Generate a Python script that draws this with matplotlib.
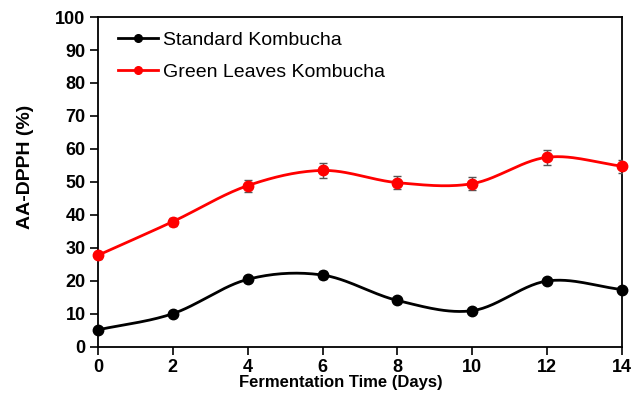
import numpy as np
import matplotlib.pyplot as plt
from matplotlib.lines import Line2D

days = [0, 2, 4, 6, 8, 10, 12, 14]
standard = [5.2, 10.1, 20.5, 21.8, 14.1, 11.0, 20.0, 17.4]
standard_err = [0.6, 0.7, 0.9, 1.2, 0.7, 0.7, 0.9, 0.8]
green = [27.8, 38.0, 48.9, 53.5, 49.8, 49.5, 57.5, 54.8]
green_err = [1.0, 1.2, 1.8, 2.3, 1.9, 2.0, 2.3, 2.0]


def smooth(x, y, n=30):
    # Catmull-Rom style smoothing, close to Excel's smoothed line
    x = np.asarray(x, float)
    y = np.asarray(y, float)
    px = np.concatenate([[2 * x[0] - x[1]], x, [2 * x[-1] - x[-2]]])
    py = np.concatenate([[2 * y[0] - y[1]], y, [2 * y[-1] - y[-2]]])
    xs, ys = [], []
    t = np.linspace(0, 1, n)
    for i in range(1, len(px) - 2):
        p0, p1, p2, p3 = [np.array([px[j], py[j]]) for j in range(i - 1, i + 3)]
        b1 = p1 + (p2 - p0) / 6
        b2 = p2 - (p3 - p1) / 6
        pts = ((1 - t) ** 3)[:, None] * p1 + (3 * (1 - t) ** 2 * t)[:, None] * b1 \
            + (3 * (1 - t) * t ** 2)[:, None] * b2 + (t ** 3)[:, None] * p2
        xs.extend(pts[:, 0])
        ys.extend(pts[:, 1])
    return np.array(xs), np.array(ys)


plt.rcParams['font.family'] = ['Liberation Sans', 'DejaVu Sans']

fig = plt.figure(figsize=(6.34, 4.01), dpi=100)
ax = fig.add_axes([0.1546, 0.1347, 0.8265, 0.8229])

handles = []
for y, err, col, lab in [(standard, standard_err, 'black', 'Standard Kombucha'),
                         (green, green_err, '#ff0000', 'Green Leaves Kombucha')]:
    sx, sy = smooth(days, y)
    ax.plot(sx, sy, color=col, lw=2, zorder=2)
    ax.errorbar(days, y, yerr=err, fmt='none', ecolor='#555555', elinewidth=1,
                capsize=3, capthick=1, zorder=3)
    ax.plot(days, y, 'o', color=col, ms=7.5, zorder=4, clip_on=False)
    handles.append(Line2D([], [], color=col, lw=2, marker='o', ms=5.5, label=lab))

ax.set_xlim(0, 14)
ax.set_ylim(0, 100)
ax.set_xticks(range(0, 15, 2))
ax.set_yticks(range(0, 101, 10))
ax.tick_params(direction='out', length=6, width=1.2, labelsize=13, pad=3)
for lbl in ax.get_xticklabels() + ax.get_yticklabels():
    lbl.set_fontweight('bold')
for s in ax.spines.values():
    s.set_linewidth(1.3)
ax.set_xlabel('Fermentation Time (Days)', fontsize=12, fontweight='bold')
ax.xaxis.set_label_coords(0.464, -0.085)
ax.set_ylabel('AA-DPPH (%)', fontsize=14, fontweight='bold')
ax.yaxis.set_label_coords(-0.122, 0.545)
ax.legend(handles=handles, loc='upper left', bbox_to_anchor=(0.024, 0.98),
          frameon=False, fontsize=14, handlelength=2.05, handletextpad=0.25,
          borderaxespad=0, labelspacing=0.75)

fig.savefig('out.png', dpi=100)
